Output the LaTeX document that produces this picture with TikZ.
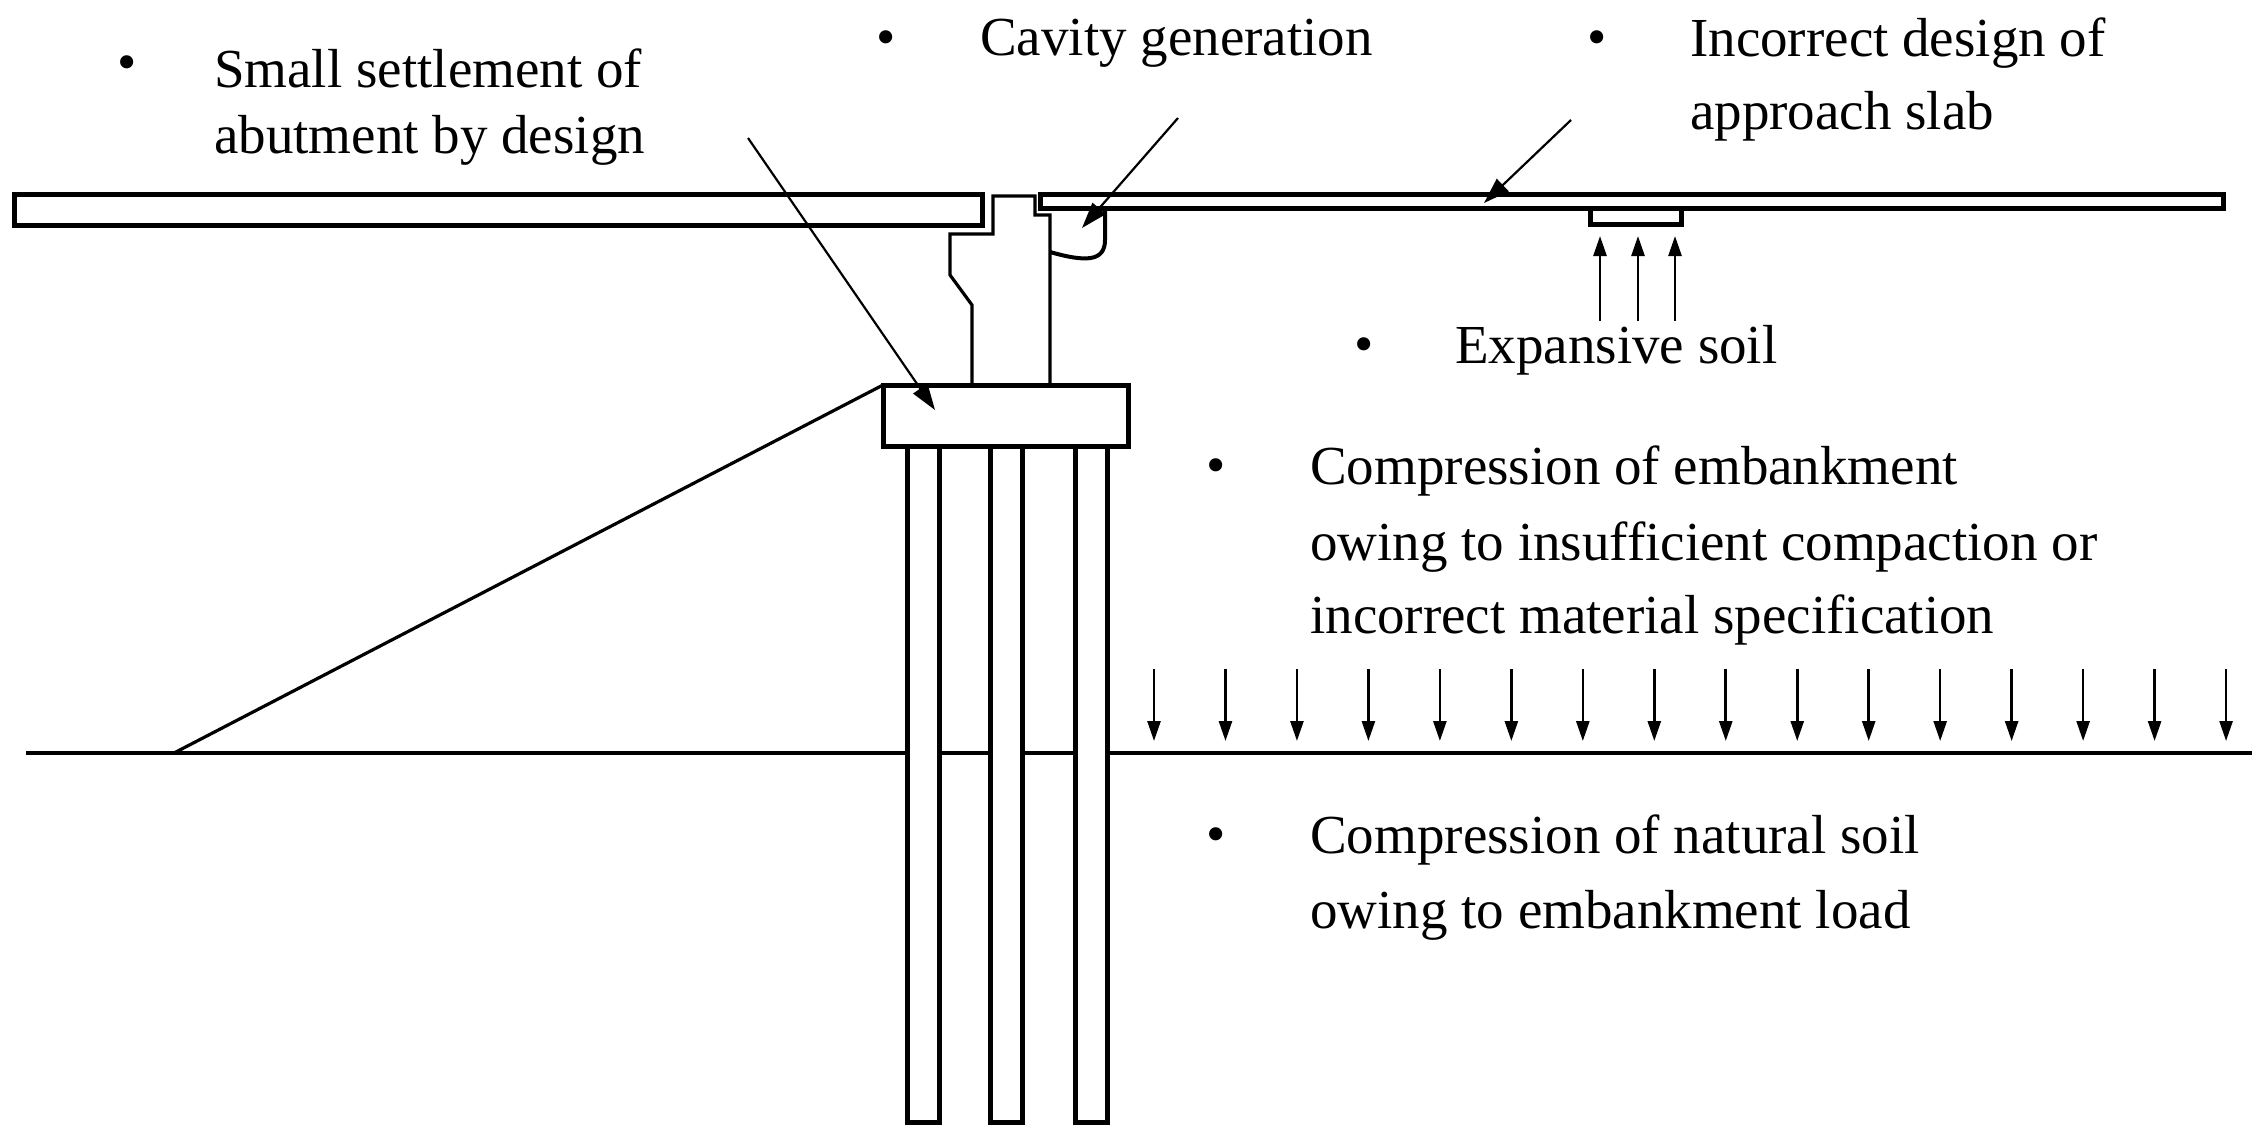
\documentclass[tikz,border=0pt]{standalone}
\usepackage{fontspec}
\setmainfont{Liberation Serif}
\usetikzlibrary{arrows.meta}
\begin{document}
\begin{tikzpicture}[x=1pt,y=-1pt,
  txt/.style={anchor=west,inner sep=0pt,font=\fontsize{55}{66}\selectfont},
  bul/.style={anchor=center,inner sep=0pt,font=\fontsize{55}{66}\selectfont},
  ln/.style={line width=5pt},
  thin/.style={line width=3.2pt},
  ar/.style={line width=2.2pt,-{Triangle[length=26pt,width=17pt]}},
  dn/.style={line width=2.6pt,-{Triangle[length=20pt,width=13pt]}}]
\useasboundingbox (0,0) rectangle (2259,1143);
% slabs
\draw[ln] (14,194) rectangle (982,225);
\draw[ln] (1040,194) rectangle (2223,208);
\draw[ln] (1590,208) rectangle (1681,224);
% abutment
\draw[thin] (972,385) -- (972,305) -- (950,275) -- (950,234) -- (993,234) -- (993,196) -- (1035,196) -- (1035,215) -- (1050,215) -- (1050,385);
% cavity
\draw[line width=4pt] (1050,252) .. controls (1085,262) and (1105,262) .. (1105,240) -- (1105,210);
% pile cap and piles
\draw[ln] (883,385) rectangle (1128,446);
\foreach \x in {907,990,1075}{\draw[ln] (\x,446) rectangle (\x+32,1122);}
% ground and slope
\draw[thin] (26,753) -- (907,753);
\draw[thin] (939,753) -- (990,753);
\draw[thin] (1022,753) -- (1075,753);
\draw[thin] (1107,753) -- (2252,753);
\draw[thin] (174,753) -- (883,385);
% up arrows
\foreach \x in {1600,1638,1675}{\draw[dn] (\x,321) -- (\x,236);}
% down arrows
\foreach \i in {0,...,15}{\draw[dn] ({1154+\i*71.47},669) -- ({1154+\i*71.47},741);}
% texts
\node[bul] (b1) at (127,68) {•};
\node[txt] (t1) at (214,68) {Small settlement of};
\node[txt] (t1b) at (214,140) {abutment by design};
\node[bul] (b2) at (886,43) {•};
\node[txt] (t2) at (980,43) {Cavity generation};
\node[bul] (b3) at (1597,43) {•};
\node[txt] (t3) at (1690,43) {Incorrect design of};
\node[txt] (t3b) at (1690,116) {approach slab};
\node[bul] (b4) at (1364,350) {•};
\node[txt] (t4) at (1455,350) {Expansive soil};
\node[bul] (b5) at (1216,471) {•};
\node[txt] (t5) at (1310,471) {Compression of embankment};
\node[txt] (t5b) at (1310,547) {owing to insufficient compaction or};
\node[txt] (t5c) at (1310,620) {incorrect material specification};
\node[bul] (b6) at (1216,840) {•};
\node[txt] (t6) at (1310,840) {Compression of natural soil};
\node[txt] (t6b) at (1310,915) {owing to embankment load};
% pointer arrows
\coordinate (a1) at (748,138); \coordinate (e1) at (935,410);
\coordinate (a2) at (1178,118); \coordinate (e2) at (1082,228);
\coordinate (a3) at (1571,120); \coordinate (e3) at (1484,203);
\draw[ar] (a1) -- (e1);
\draw[ar] (a2) -- (e2);
\draw[ar] (a3) -- (e3);
\end{tikzpicture}
\end{document}
